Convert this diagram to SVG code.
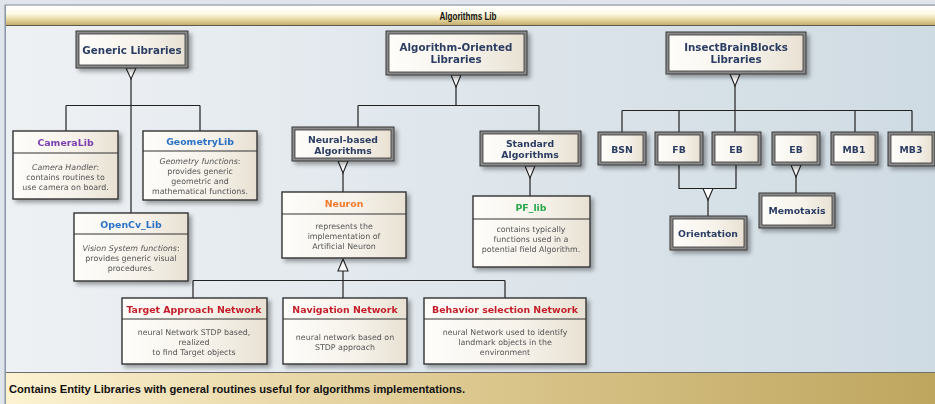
<svg xmlns="http://www.w3.org/2000/svg" width="935" height="404" viewBox="0 0 935 404">
  <defs>
    <linearGradient id="bodyGrad" x1="0" y1="0" x2="1" y2="0">
      <stop offset="0" stop-color="#eef1f4"/>
      <stop offset="1" stop-color="#cfdbe3"/>
    </linearGradient>
    <linearGradient id="titleGrad" x1="0" y1="0" x2="0" y2="1">
      <stop offset="0" stop-color="#ffffff"/>
      <stop offset="0.4" stop-color="#fffbe8"/>
      <stop offset="0.7" stop-color="#e8d8a2"/>
      <stop offset="1" stop-color="#c4ad6e"/>
    </linearGradient>
    <linearGradient id="footGrad" x1="0" y1="0" x2="1" y2="0">
      <stop offset="0" stop-color="#fdf3d2"/>
      <stop offset="0.5" stop-color="#dcc78e"/>
      <stop offset="1" stop-color="#bea65f"/>
    </linearGradient>
    <linearGradient id="nodeGrad" x1="0" y1="0" x2="1" y2="0">
      <stop offset="0" stop-color="#fefdfa"/>
      <stop offset="0.6" stop-color="#f6f2ea"/>
      <stop offset="1" stop-color="#e8e1d3"/>
    </linearGradient>
    <filter id="shadow" x="-20%" y="-20%" width="150%" height="160%">
      <feDropShadow dx="3" dy="3" stdDeviation="2" flood-color="#000" flood-opacity="0.35"/>
    </filter>
  </defs>
  <style>
    .pkgOuter { fill: #8a8a8a; stroke: #3a3a3a; stroke-width: 1; }
    .pkgInner { fill: url(#nodeGrad); stroke: #333; stroke-width: 0.8; }
    .cls { fill: url(#nodeGrad); stroke: #333; stroke-width: 1.4; }
    .div { stroke: #333; stroke-width: 1.2; }
    .pkgBig { font-family: "DejaVu Sans", Verdana, sans-serif; font-weight: bold; font-size: 10.3px; fill: #2b3d63; text-anchor: middle; }
    .pkg { font-family: "DejaVu Sans", Verdana, sans-serif; font-weight: bold; font-size: 9.3px; fill: #2b3d63; text-anchor: middle; }
    .head { font-family: "DejaVu Sans", Verdana, sans-serif; font-weight: bold; font-size: 9.4px; text-anchor: middle; }
    .body { font-family: "DejaVu Sans", Verdana, sans-serif; font-size: 7.9px; fill: #555; text-anchor: middle; }
    .it { font-style: italic; }
    .conn { fill: none; stroke: #222; stroke-width: 1.2; }
    .tri { fill: #fff; stroke: #222; stroke-width: 1.1; }
    .band { font-family: "Liberation Sans", Arial, sans-serif; font-weight: bold; fill: #111; }
  </style>

  <!-- frame -->
  <rect x="0" y="0" width="935" height="404" fill="#dfe5eb"/>
  <rect x="5" y="5" width="935" height="399" fill="url(#bodyGrad)" stroke="#8a8f96" stroke-width="1"/>
  <rect x="6" y="6" width="929" height="19" fill="url(#titleGrad)"/>
  <line x1="5" y1="25.5" x2="935" y2="25.5" stroke="#5e5b50" stroke-width="1.2"/>
  <text class="band" x="468" y="19.5" font-size="11" text-anchor="middle" textLength="57" lengthAdjust="spacingAndGlyphs">Algorithms Lib</text>
  <rect x="6" y="373" width="929" height="31" fill="url(#footGrad)"/>
  <line x1="5" y1="372.5" x2="935" y2="372.5" stroke="#6e6e6e" stroke-width="1.2"/>
  <line x1="5.5" y1="5" x2="5.5" y2="404" stroke="#8a98ab" stroke-width="1"/>
  <text class="band" x="9" y="393" font-size="11" textLength="456" lengthAdjust="spacingAndGlyphs">Contains Entity Libraries with general routines useful for algorithms implementations.</text>

  <!-- connectors -->
  <g id="connectors">
    <!-- Generic Libraries -->
    <path class="conn" d="M131 78 V213 M66 105.5 H200 M66 105.5 V131 M200 105.5 V131"/>
    <polygon class="tri" points="126,68 136,68 131,79"/>
    <!-- Algorithm-Oriented Libraries -->
    <path class="conn" d="M456 86 V105.5 M358 105.5 H539 M358 105.5 V127 M539 105.5 V131"/>
    <polygon class="tri" points="451,75 461,75 456,87"/>
    <!-- Neural-based / Standard -->
    <path class="conn" d="M343 172 V192"/>
    <polygon class="tri" points="338,161 348,161 343,173"/>
    <path class="conn" d="M530 177 V196"/>
    <polygon class="tri" points="525,166 535,166 530,178"/>
    <!-- Neuron specialisations -->
    <path class="conn" d="M343 271 V298 M193 280.5 H505 M193 280.5 V298 M505 280.5 V298"/>
    <polygon class="tri" points="343,259 338,271 348,271"/>
    <!-- InsectBrainBlocks -->
    <path class="conn" d="M735 85 V110.5 M622 110.5 H912 M622 110.5 V132 M679 110.5 V132 M735 110.5 V132 M855 110.5 V132 M912 110.5 V132"/>
    <polygon class="tri" points="730,74 740,74 735,86"/>
    <!-- FB / EB to Orientation -->
    <path class="conn" d="M679 165 V188.5 H736 V165 M708 199 V216"/>
    <polygon class="tri" points="703,188.5 713,188.5 708,200"/>
    <!-- EB to Memotaxis -->
    <path class="conn" d="M796 176 V193"/>
    <polygon class="tri" points="791,165 801,165 796,177"/>
  </g>

  <!-- package nodes -->
  <g id="generic-libraries" filter="url(#shadow)">
    <rect class="pkgOuter" x="76" y="31" width="112" height="37"/>
    <rect class="pkgInner" x="79" y="34" width="106" height="31"/>
    <text class="pkgBig" x="132" y="53.5">Generic Libraries</text>
  </g>
  <g id="algorithm-oriented-libraries" filter="url(#shadow)">
    <rect class="pkgOuter" x="386" y="31" width="141" height="44"/>
    <rect class="pkgInner" x="389" y="34" width="135" height="38"/>
    <text class="pkgBig" x="456" y="50.5">Algorithm-Oriented</text>
    <text class="pkgBig" x="456" y="62.5">Libraries</text>
  </g>
  <g id="insectbrainblocks-libraries" filter="url(#shadow)">
    <rect class="pkgOuter" x="666" y="32" width="140" height="42"/>
    <rect class="pkgInner" x="669" y="35" width="134" height="36"/>
    <text class="pkgBig" x="736" y="50.5">InsectBrainBlocks</text>
    <text class="pkgBig" x="736" y="62.5">Libraries</text>
  </g>
  <g id="neural-based-algorithms" filter="url(#shadow)">
    <rect class="pkgOuter" x="292" y="127" width="102" height="34"/>
    <rect class="pkgInner" x="295" y="130" width="96" height="28"/>
    <text class="pkg" x="343" y="142.5">Neural-based</text>
    <text class="pkg" x="343" y="153.5">Algorithms</text>
  </g>
  <g id="standard-algorithms" filter="url(#shadow)">
    <rect class="pkgOuter" x="480" y="131" width="101" height="35"/>
    <rect class="pkgInner" x="483" y="134" width="95" height="29"/>
    <text class="pkg" x="530" y="146.5">Standard</text>
    <text class="pkg" x="530" y="157.5">Algorithms</text>
  </g>
  <g id="bsn" filter="url(#shadow)">
    <rect class="pkgOuter" x="598" y="132" width="48" height="33"/>
    <rect class="pkgInner" x="601" y="135" width="42" height="27"/>
    <text class="pkg" x="622" y="152.5">BSN</text>
  </g>
  <g id="fb" filter="url(#shadow)">
    <rect class="pkgOuter" x="655" y="132" width="48" height="33"/>
    <rect class="pkgInner" x="658" y="135" width="42" height="27"/>
    <text class="pkg" x="679" y="152.5">FB</text>
  </g>
  <g id="eb" filter="url(#shadow)">
    <rect class="pkgOuter" x="712" y="132" width="49" height="33"/>
    <rect class="pkgInner" x="715" y="135" width="43" height="27"/>
    <text class="pkg" x="736" y="152.5">EB</text>
  </g>
  <g id="eb-2" filter="url(#shadow)">
    <rect class="pkgOuter" x="772" y="132" width="48" height="33"/>
    <rect class="pkgInner" x="775" y="135" width="42" height="27"/>
    <text class="pkg" x="796" y="152.5">EB</text>
  </g>
  <g id="mb1" filter="url(#shadow)">
    <rect class="pkgOuter" x="831" y="132" width="47" height="33"/>
    <rect class="pkgInner" x="834" y="135" width="41" height="27"/>
    <text class="pkg" x="854" y="152.5">MB1</text>
  </g>
  <g id="mb3" filter="url(#shadow)">
    <rect class="pkgOuter" x="888" y="132" width="47" height="34"/>
    <rect class="pkgInner" x="891" y="135" width="41" height="28"/>
    <text class="pkg" x="911" y="153">MB3</text>
  </g>
  <g id="orientation" filter="url(#shadow)">
    <rect class="pkgOuter" x="670" y="216" width="77" height="34"/>
    <rect class="pkgInner" x="673" y="219" width="71" height="28"/>
    <text class="pkg" x="708" y="236.5">Orientation</text>
  </g>
  <g id="memotaxis" filter="url(#shadow)">
    <rect class="pkgOuter" x="759" y="193" width="76" height="35"/>
    <rect class="pkgInner" x="762" y="196" width="70" height="29"/>
    <text class="pkg" x="797" y="214">Memotaxis</text>
  </g>

  <!-- class nodes -->
  <g id="cameralib" filter="url(#shadow)">
    <rect class="cls" x="13" y="131" width="105" height="68"/>
    <line class="div" x1="13" y1="153" x2="118" y2="153"/>
    <text class="head" x="65.5" y="145.5" fill="#7b3fb0">CameraLib</text>
    <text class="body" x="65.5" y="170"><tspan class="it">Camera Handler</tspan>:</text>
    <text class="body" x="65.5" y="180">contains routines to</text>
    <text class="body" x="65.5" y="190">use camera on board.</text>
  </g>
  <g id="geometrylib" filter="url(#shadow)">
    <rect class="cls" x="143" y="131" width="114" height="69"/>
    <line class="div" x1="143" y1="151" x2="257" y2="151"/>
    <text class="head" x="200" y="144.5" fill="#2a72c6">GeometryLib</text>
    <text class="body" x="200" y="164"><tspan class="it">Geometry functions</tspan>:</text>
    <text class="body" x="200" y="174">provides generic</text>
    <text class="body" x="200" y="184">geometric and</text>
    <text class="body" x="200" y="194">mathematical functions.</text>
  </g>
  <g id="opencv-lib" filter="url(#shadow)">
    <rect class="cls" x="74" y="213" width="114" height="68"/>
    <line class="div" x1="74" y1="234" x2="188" y2="234"/>
    <text class="head" x="131" y="227.5" fill="#2a72c6">OpenCv_Lib</text>
    <text class="body" x="131" y="251"><tspan class="it">Vision System functions</tspan>:</text>
    <text class="body" x="131" y="261">provides generic visual</text>
    <text class="body" x="131" y="271">procedures.</text>
  </g>
  <g id="neuron" filter="url(#shadow)">
    <rect class="cls" x="282" y="192" width="124" height="66"/>
    <line class="div" x1="282" y1="214" x2="406" y2="214"/>
    <text class="head" x="344" y="206.5" fill="#f27a2c">Neuron</text>
    <text class="body" x="344" y="229">represents the</text>
    <text class="body" x="344" y="239">implementation of</text>
    <text class="body" x="344" y="249">Artificial Neuron</text>
  </g>
  <g id="pf-lib" filter="url(#shadow)">
    <rect class="cls" x="473" y="196" width="117" height="71"/>
    <line class="div" x1="473" y1="219" x2="590" y2="219"/>
    <text class="head" x="531" y="210.5" fill="#2aa84c">PF_lib</text>
    <text class="body" x="531" y="232">contains typically</text>
    <text class="body" x="531" y="242">functions used in a</text>
    <text class="body" x="531" y="252">potential field Algorithm.</text>
  </g>
  <g id="target-approach-network" filter="url(#shadow)">
    <rect class="cls" x="122" y="298" width="145" height="66"/>
    <line class="div" x1="122" y1="319" x2="267" y2="319"/>
    <text class="head" x="194" y="312.5" fill="#c41f2a">Target Approach Network</text>
    <text class="body" x="194" y="335">neural Network STDP based,</text>
    <text class="body" x="194" y="345">realized</text>
    <text class="body" x="194" y="355">to find Target objects</text>
  </g>
  <g id="navigation-network" filter="url(#shadow)">
    <rect class="cls" x="283" y="298" width="124" height="66"/>
    <line class="div" x1="283" y1="319" x2="407" y2="319"/>
    <text class="head" x="345" y="312.5" fill="#c41f2a">Navigation Network</text>
    <text class="body" x="345" y="340">neural network based on</text>
    <text class="body" x="345" y="350">STDP approach</text>
  </g>
  <g id="behavior-selection-network" filter="url(#shadow)">
    <rect class="cls" x="424" y="298" width="162" height="66"/>
    <line class="div" x1="424" y1="319" x2="586" y2="319"/>
    <text class="head" x="505" y="312.5" fill="#c41f2a">Behavior selection Network</text>
    <text class="body" x="505" y="335">neural Network used to identify</text>
    <text class="body" x="505" y="345">landmark objects in the</text>
    <text class="body" x="505" y="355">environment</text>
  </g>
</svg>
